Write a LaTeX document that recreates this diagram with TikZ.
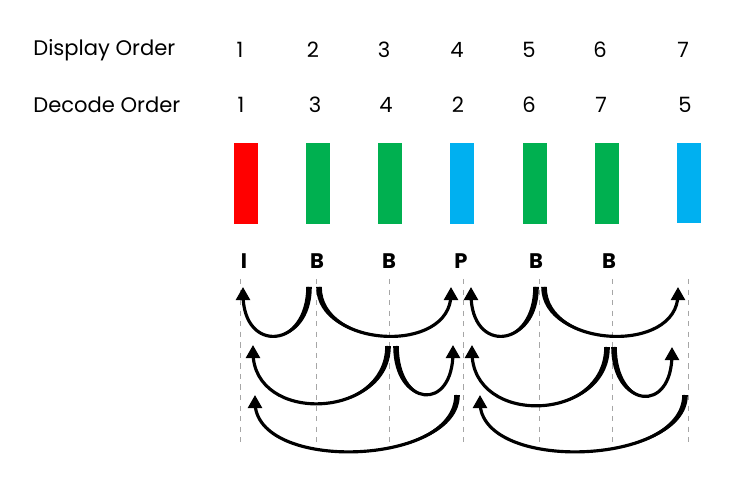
\documentclass[tikz,border=0pt]{standalone}
\usepackage{fontspec}
\setmainfont{Poppins}
\usetikzlibrary{arrows.meta}
\definecolor{redI}{RGB}{255,0,0}
\definecolor{greenB}{RGB}{0,176,80}
\definecolor{blueP}{RGB}{0,176,240}
% tapered reference arc: start, tip, bend, side (1 = bends left, -1 = bends right)
\newcommand{\refarc}[4]{%
  \draw[flow] (#1) .. controls +(0,#3) and +(0,#3) .. ([yshift=-4pt]#2);
  \fill ([xshift=#4*1.6pt]#1) .. controls +(0,#3+1) and +(0,#3) .. ([yshift=-4pt]#2)
    .. controls +(0,#3) and +(0,#3-1) .. ([xshift=(0-#4)*1.6pt]#1) -- cycle;
  \draw[flowtip] ([yshift=-1pt]#2) -- (#2);}

\begin{document}
\begin{tikzpicture}[x=0.02cm, y=-0.02cm,
    txt/.style={font=\fontsize{12}{14}\selectfont, inner sep=0pt},
    typ/.style={font=\fontsize{12}{14}\selectfont\bfseries, inner sep=0pt},
    frame/.style={rectangle, minimum width=0.48cm, minimum height=1.62cm, inner sep=0pt},
    guide/.style={gray!70, dashed, line width=0.4pt},
    flow/.style={line width=1.8pt},
    flowtip/.style={-{Triangle[length=7.5pt, width=8pt]}, line width=1.6pt}
]
\useasboundingbox (0,0) rectangle (733,479);

% row titles and numbers
\node[txt, anchor=west] (disp) at (33,50) {Display Order};
\node[txt, anchor=west] (dec) at (33,105) {Decode Order};
\node[txt] (d1) at (240,50) {1};
\node[txt] (d2) at (313,50) {2};
\node[txt] (d3) at (384,50) {3};
\node[txt] (d4) at (457,50) {4};
\node[txt] (d5) at (529,50) {5};
\node[txt] (d6) at (600,50) {6};
\node[txt] (d7) at (683,50) {7};
\node[txt] (c1) at (241,105) {1};
\node[txt] (c2) at (315,105) {3};
\node[txt] (c3) at (386,105) {4};
\node[txt] (c4) at (458,105) {2};
\node[txt] (c5) at (529,105) {6};
\node[txt] (c6) at (601,105) {7};
\node[txt] (c7) at (685,105) {5};

% frames
\node[frame, fill=redI] (f1) at (246,183.5) {};
\node[frame, fill=greenB] (f2) at (318,183.5) {};
\node[frame, fill=greenB] (f3) at (390,183.5) {};
\node[frame, fill=blueP] (f4) at (462,183.5) {};
\node[frame, fill=greenB] (f5) at (535,183.5) {};
\node[frame, fill=greenB] (f6) at (607,183.5) {};
\node[frame, fill=blueP] (f7) at (689,183) {};

\node[typ] (t1) at (244,261) {I};
\node[typ] (t2) at (317,261) {B};
\node[typ] (t3) at (389,261) {B};
\node[typ] (t4) at (461,261) {P};
\node[typ] (t5) at (536,261) {B};
\node[typ] (t6) at (609,261) {B};

% guides
\draw[guide] (240,279) -- (240,443);
\draw[guide] (316,279) -- (316,443);
\draw[guide] (389,279) -- (389,443);
\draw[guide] (463,279) -- (463,443);
\draw[guide] (539,279) -- (539,443);
\draw[guide] (612,279) -- (612,443);
\draw[guide] (688,279) -- (688,443);

% reference ends
\coordinate (s2to1) at (309,287);  \coordinate (e2to1) at (243,287);
\coordinate (s2to4) at (319,287);  \coordinate (e2to4) at (451,287);
\coordinate (s5to4) at (536,287);  \coordinate (e5to4) at (471,287);
\coordinate (s5to7) at (544,287);  \coordinate (e5to7) at (678,287);
\coordinate (s3to1) at (388,346);  \coordinate (e3to1) at (253,345);
\coordinate (s3to4) at (396,346);  \coordinate (e3to4) at (453,345);
\coordinate (s6to4) at (607,347);  \coordinate (e6to4) at (472,345);
\coordinate (s6to7) at (614,347);  \coordinate (e6to7) at (672,347);
\coordinate (s4to1) at (457,395);  \coordinate (e4to1) at (255,395);
\coordinate (s7to4) at (685,395);  \coordinate (e7to4) at (480,395);

\refarc{s2to1}{e2to1}{61}{1}
\refarc{s2to4}{e2to4}{61}{-1}
\refarc{s5to4}{e5to4}{61}{1}
\refarc{s5to7}{e5to7}{61}{-1}
\refarc{s3to1}{e3to1}{73}{1}
\refarc{s3to4}{e3to4}{61}{-1}
\refarc{s6to4}{e6to4}{75}{1}
\refarc{s6to7}{e6to7}{61}{-1}
\refarc{s4to1}{e4to1}{71}{1}
\refarc{s7to4}{e7to4}{71}{1}
\end{tikzpicture}
\end{document}
